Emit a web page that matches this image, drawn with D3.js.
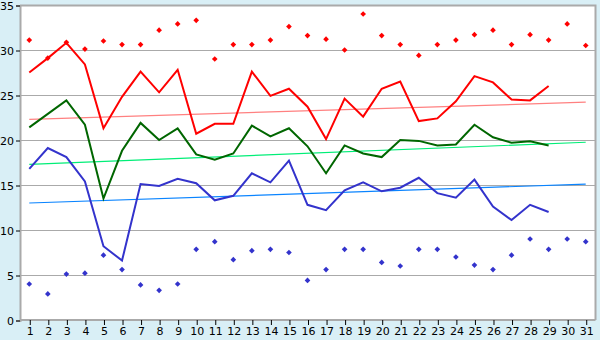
<!DOCTYPE html>
<html>
<head>
<meta charset="utf-8">
<script src="https://cdn.jsdelivr.net/npm/d3@7"></script>
<style>
  body { margin: 0; background: #d9eff6; }
  svg { display: block; }
  .tick text { font-family: "DejaVu Sans", sans-serif; font-size: 11px; fill: #000; }
</style>
</head>
<body>
<svg id="chart" width="600" height="340"></svg>
<script>
// days of the month
const days = d3.range(1, 32);
const yTicks = [0, 5, 10, 15, 20, 25, 30, 35];

// daily max / mean / min (days 1..29)
const maxTemp = [27.5, 29.1, 30.8, 28.4, 21.3, 24.8, 27.6, 25.3, 27.8, 20.7,
  21.8, 21.8, 27.6, 24.9, 25.7, 23.7, 20.1, 24.6, 22.6, 25.7,
  26.5, 22.1, 22.4, 24.3, 27.1, 26.4, 24.5, 24.4, 26.0];
const meanTemp = [21.4, 22.9, 24.4, 21.7, 13.5, 18.8, 21.9, 20.0, 21.3, 18.4,
  17.8, 18.5, 21.6, 20.4, 21.3, 19.3, 16.3, 19.4, 18.5, 18.1,
  20.0, 19.9, 19.4, 19.5, 21.7, 20.3, 19.7, 19.85, 19.4];
const minTemp = [16.8, 19.1, 18.1, 15.4, 8.2, 6.6, 15.1, 14.9, 15.7, 15.2,
  13.3, 13.8, 16.3, 15.3, 17.7, 12.8, 12.2, 14.4, 15.3, 14.3,
  14.7, 15.8, 14.1, 13.6, 15.6, 12.6, 11.1, 12.8, 12.0];

// record high / low for each day (1..31)
const recordHigh = [31.1, 29.1, 30.85, 30.1, 31.0, 30.6, 30.6, 32.2, 32.9, 33.3,
  29.0, 30.6, 30.6, 31.1, 32.6, 31.6, 31.2, 30.0, 34.0, 31.6,
  30.6, 29.4, 30.6, 31.1, 31.7, 32.2, 30.6, 31.7, 31.1, 32.9, 30.5];
const recordLow = [4.0, 2.9, 5.1, 5.2, 7.2, 5.6, 3.9, 3.3, 4.0, 7.85,
  8.7, 6.7, 7.7, 7.85, 7.5, 4.4, 5.6, 7.85, 7.85, 6.4,
  6.0, 7.85, 7.85, 7.0, 6.1, 5.6, 7.2, 9.0, 7.85, 9.0, 8.7];

// normals: value on day 1 and day 31
const normalHigh = [22.3, 24.2];
const normalMean = [17.3, 19.75];
const normalLow = [13.0, 15.1];

const svg = d3.select('#chart');
const m = { left: 20, right: 595, top: 5, bottom: 320 };

const x = d3.scalePoint().domain(days).range([m.left, m.right]).padding(0.5);
const y = d3.scaleLinear().domain([0, 35]).range([m.bottom, m.top]);

// plot background
svg.append('rect')
  .attr('x', m.left).attr('y', m.top)
  .attr('width', m.right - m.left).attr('height', m.bottom - m.top)
  .attr('fill', '#fff');

// gridlines
svg.append('g')
  .selectAll('line')
  .data(yTicks.filter(d => d > 0 && d < 35))
  .join('line')
  .attr('x1', m.left).attr('x2', m.right)
  .attr('y1', d => y(d) + 0.5).attr('y2', d => y(d) + 0.5)
  .attr('stroke', '#aaa');

// frame (top + right)
svg.append('path')
  .attr('d', `M${m.left},${m.top + 0.5}H${m.right + 0.5}V${m.bottom}`)
  .attr('fill', 'none').attr('stroke', '#aaa').attr('stroke-width', 2);

// axes
const yAxis = d3.axisLeft(y).tickValues(yTicks).tickSize(4).tickPadding(2);
svg.append('g')
  .attr('transform', `translate(${m.left},0.5)`)
  .call(yAxis)
  .call(g => g.select('.domain').attr('stroke', '#aaa').attr('stroke-width', 2))
  .call(g => g.selectAll('.tick line').attr('stroke', '#000'));

const xAxis = d3.axisBottom(x).tickSize(5).tickPadding(2);
svg.append('g')
  .attr('transform', `translate(0.5,${m.bottom})`)
  .call(xAxis)
  .call(g => g.select('.domain').attr('stroke', '#aaa').attr('stroke-width', 2)
    .attr('d', `M${m.left - 0.5},0H${m.right}`))
  .call(g => g.selectAll('.tick line').attr('stroke', '#000'));

// normal lines
const normals = [
  { v: normalHigh, c: '#ff8080' },
  { v: normalMean, c: '#00ee77' },
  { v: normalLow, c: '#0a84ff' }
];
svg.append('g')
  .selectAll('line')
  .data(normals)
  .join('line')
  .attr('x1', x(1)).attr('x2', x(31))
  .attr('y1', d => y(d.v[0])).attr('y2', d => y(d.v[1]))
  .attr('stroke', d => d.c).attr('stroke-width', 1.2);

// daily lines
const line = d3.line()
  .x((d, i) => x(days[i]))
  .y(d => y(d));

const series = [
  { v: maxTemp, c: '#ff0000' },
  { v: meanTemp, c: '#006600' },
  { v: minTemp, c: '#3333cc' }
];
svg.append('g')
  .selectAll('path')
  .data(series)
  .join('path')
  .attr('d', d => line(d.v))
  .attr('fill', 'none')
  .attr('stroke', d => d.c)
  .attr('stroke-width', 2);

// record markers (small square turned 45deg)
const marker = d3.symbol(d3.symbolSquare).size(16);
const records = [
  { v: recordHigh, c: '#ff0000' },
  { v: recordLow, c: '#3333cc' }
];
records.forEach(r => {
  svg.append('g')
    .selectAll('path')
    .data(r.v)
    .join('path')
    .attr('d', marker)
    .attr('transform', (d, i) => `translate(${x(days[i])},${y(d)}) rotate(45)`)
    .attr('fill', r.c);
});
</script>
</body>
</html>
